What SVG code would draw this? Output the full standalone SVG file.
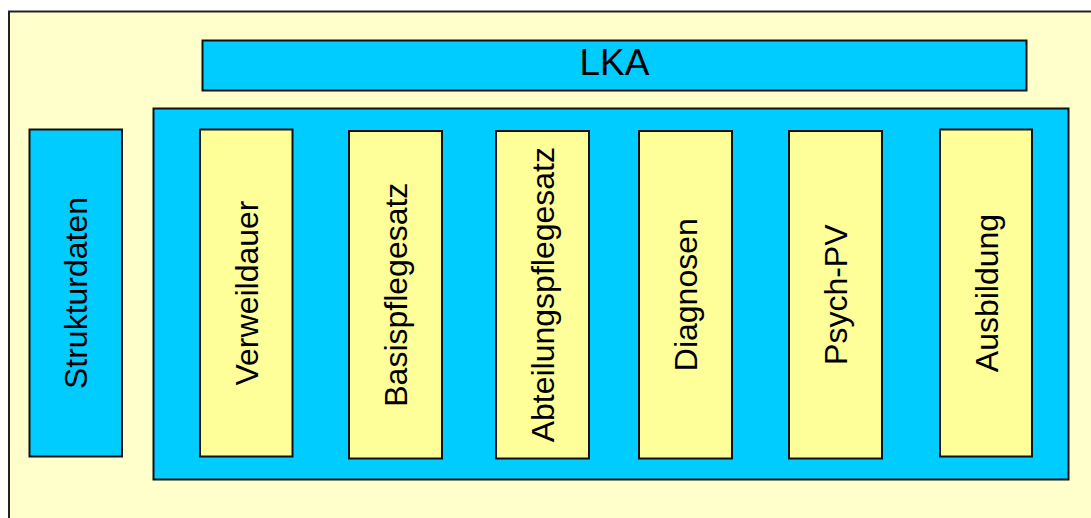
<svg xmlns="http://www.w3.org/2000/svg" width="1091" height="518" viewBox="0 0 1091 518">
<style>
.frame{fill:#FFFFCC;stroke:#222;stroke-width:2}
.blue{fill:#00CCFF;stroke:#111;stroke-width:2}
.yel{fill:#FFFF99;stroke:#111;stroke-width:2}
.t{font-family:"Liberation Sans",Arial,sans-serif;font-size:32px;fill:#000;text-anchor:middle}
.h{font-size:37px}
</style>
<rect width="1091" height="518" fill="#FFFFFF"/>
<rect class="frame" x="9" y="11.5" width="1100" height="520"/>
<g id="lka">
<rect class="blue" x="202.5" y="40.5" width="824" height="50"/>
<text class="t h" x="614.5" y="75">LKA</text>
</g>
<g id="container">
<rect class="blue" x="153.5" y="108.5" width="915" height="371"/>
</g>
<g id="strukturdaten">
<rect class="blue" x="29.5" y="129.5" width="92.5" height="327"/>
<text class="t" transform="translate(87.2,293) rotate(-90)">Strukturdaten</text>
</g>
<g id="verweildauer">
<rect class="yel" x="200" y="129.5" width="92.5" height="327"/>
<text class="t" transform="translate(257.7,293) rotate(-90)">Verweildauer</text>
</g>
<g id="basispflegesatz">
<rect class="yel" x="349" y="131" width="93" height="327.5"/>
<text class="t" transform="translate(407,294.7) rotate(-90)">Basispflegesatz</text>
</g>
<g id="abteilungspflegesatz">
<rect class="yel" x="496" y="131" width="93" height="327.5"/>
<text class="t" transform="translate(554,294.7) rotate(-90)">Abteilungspflegesatz</text>
</g>
<g id="diagnosen">
<rect class="yel" x="639" y="131" width="93" height="327.5"/>
<text class="t" transform="translate(697,294.7) rotate(-90)">Diagnosen</text>
</g>
<g id="psychpv">
<rect class="yel" x="789" y="131" width="93" height="327.5"/>
<text class="t" transform="translate(847,294.7) rotate(-90)">Psych-PV</text>
</g>
<g id="ausbildung">
<rect class="yel" x="940" y="129.5" width="92" height="327"/>
<text class="t" transform="translate(997.5,293) rotate(-90)">Ausbildung</text>
</g>
<g id="connectors"></g>
</svg>
